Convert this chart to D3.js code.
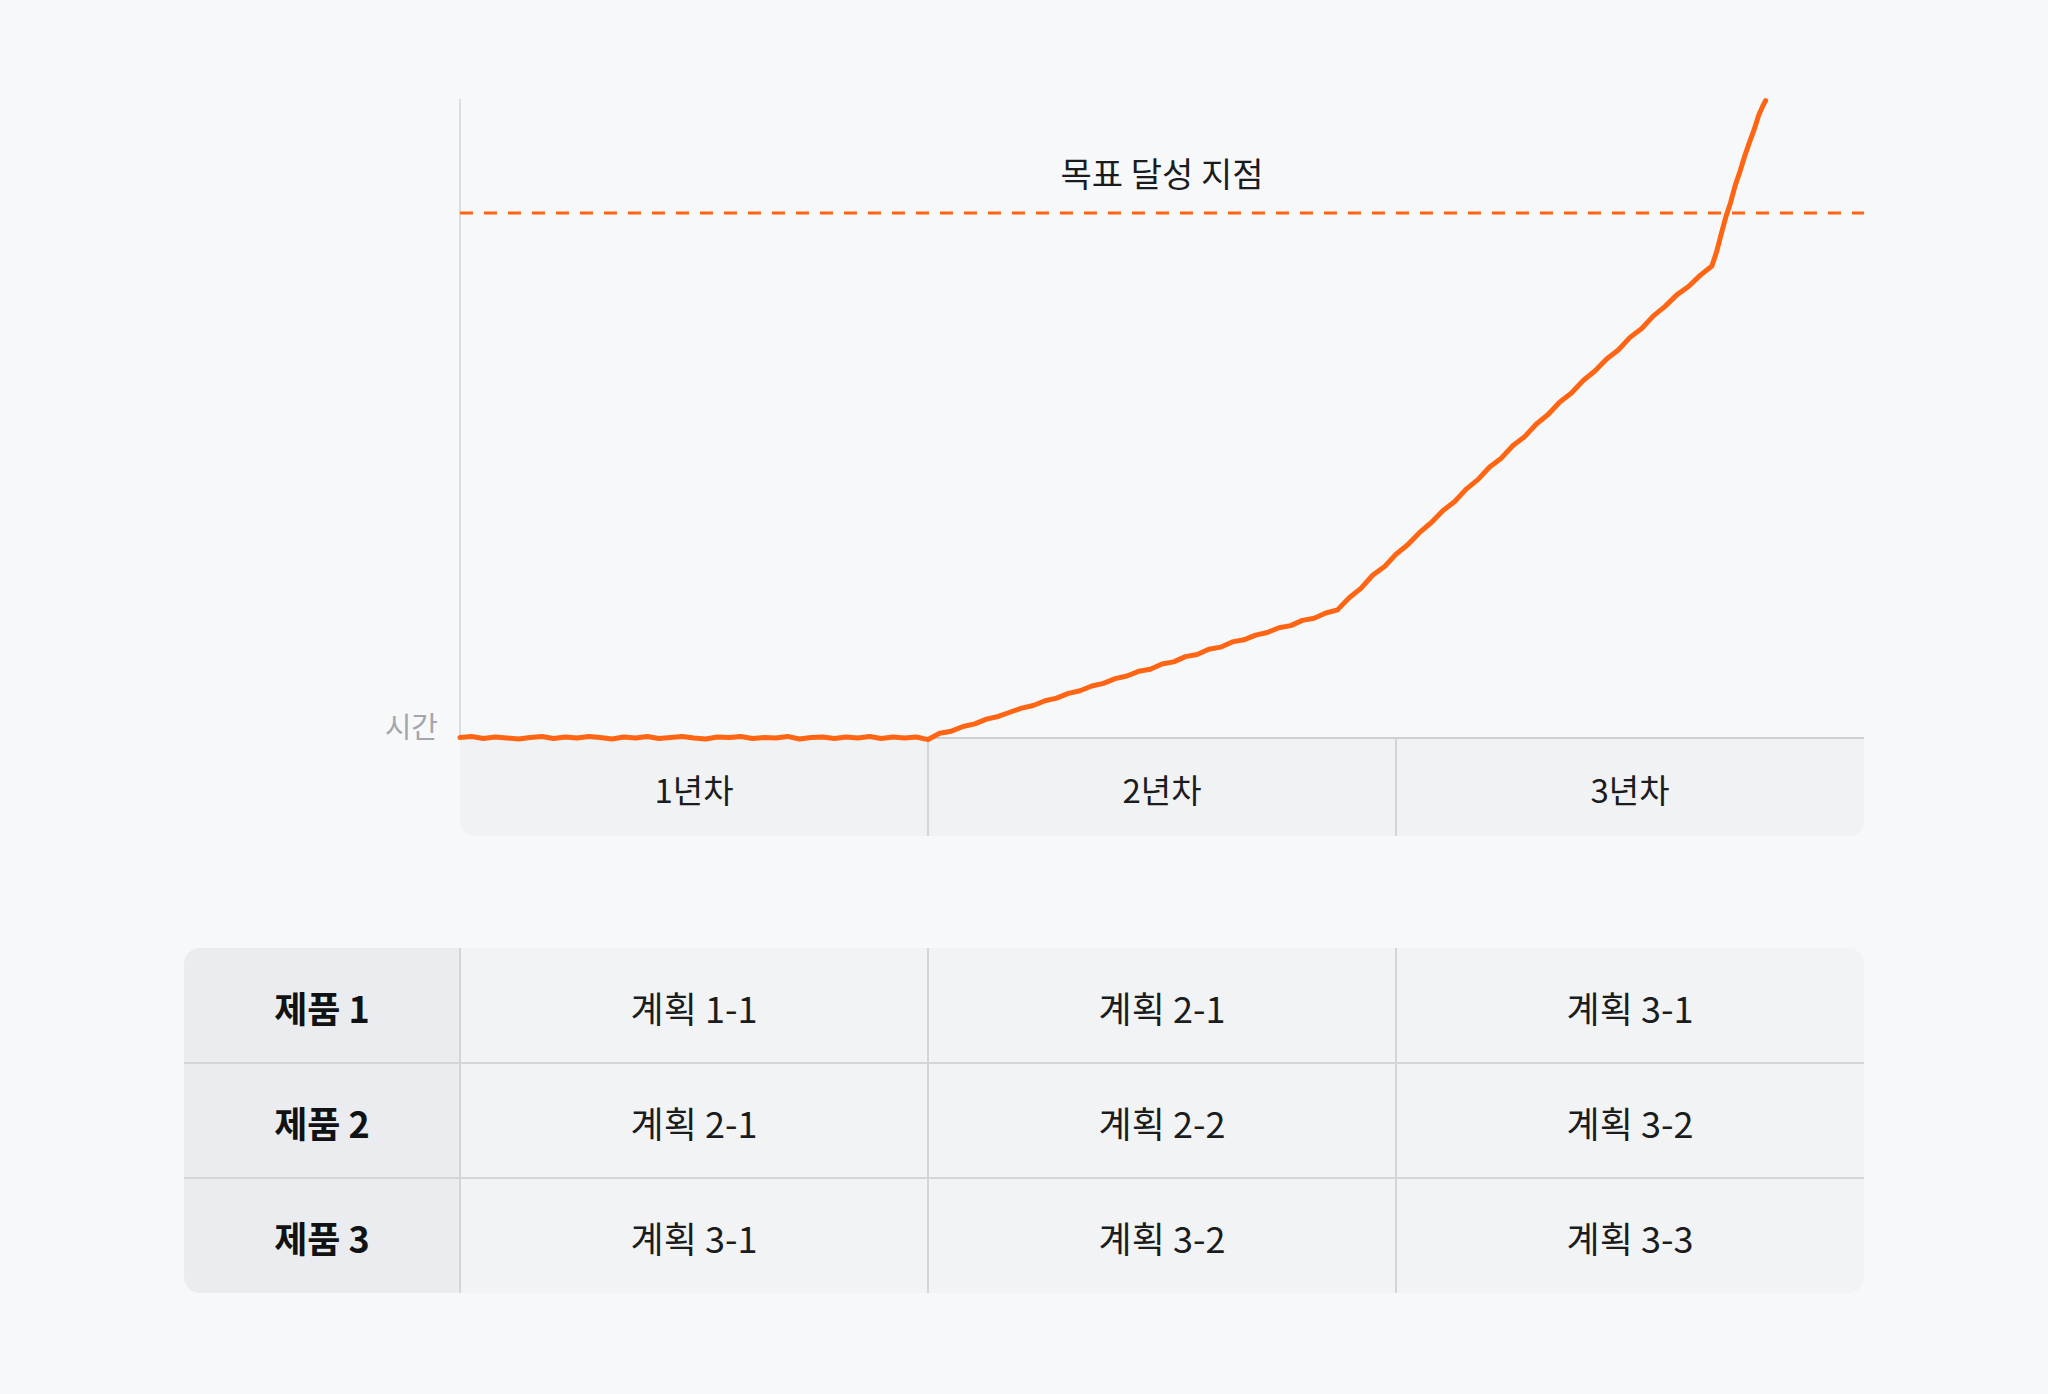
<!DOCTYPE html>
<html>
<head>
<meta charset="utf-8">
<script src="https://cdn.jsdelivr.net/npm/d3@7"></script>
<style>
  html, body { margin: 0; padding: 0; background: #f7f8fa; }
  svg { display: block; }
  text { font-family: "Noto Sans CJK KR", "Noto Sans", sans-serif; }
</style>
</head>
<body>
<svg id="chart" width="2048" height="1394"></svg>
<script>
// ---- data ----
const yearLabels = ["1년차", "2년차", "3년차"];
const goalValue = 100;
const goalLabel = "목표 달성 지점";
const yAxisLabel = "시간";
const products = ["제품 1", "제품 2", "제품 3"];
const plans = [
  ["계획 1-1", "계획 2-1", "계획 3-1"],
  ["계획 2-1", "계획 2-2", "계획 3-2"],
  ["계획 3-1", "계획 3-2", "계획 3-3"]
];
// [year, progress]
const trajectory = [
  [0,0.1],[0.025,0.3],[0.05,-0.1],[0.075,0.2],[0.1,0.0],[0.125,-0.2],[0.15,0.1],[0.175,0.3],
  [0.2,-0.1],[0.225,0.2],[0.25,0.0],[0.275,0.3],[0.3,0.1],[0.325,-0.2],[0.35,0.2],[0.375,0.0],
  [0.4,0.3],[0.425,-0.1],[0.45,0.1],[0.475,0.3],[0.5,0.0],[0.525,-0.2],[0.55,0.2],[0.575,0.1],
  [0.6,0.3],[0.625,-0.1],[0.65,0.1],[0.675,0.0],[0.7,0.3],[0.725,-0.2],[0.75,0.1],[0.775,0.2],
  [0.8,-0.1],[0.825,0.2],[0.85,0.0],[0.875,0.3],[0.9,-0.1],[0.925,0.2],[0.95,0.0],[0.975,0.2],
  [1.0,-0.3],
  [1.025,0.9],[1.05,1.3],[1.075,2.2],[1.1,2.7],[1.125,3.6],[1.15,4.1],[1.175,4.9],[1.2,5.7],
  [1.225,6.2],[1.25,7.1],[1.275,7.6],[1.3,8.5],[1.325,9.0],[1.35,9.9],[1.375,10.4],[1.4,11.3],
  [1.425,11.8],[1.45,12.7],[1.475,13.1],[1.5,14.1],[1.525,14.5],[1.55,15.5],[1.575,15.9],
  [1.6,16.9],[1.625,17.3],[1.65,18.3],[1.675,18.7],[1.7,19.6],[1.725,20.1],[1.75,21.0],
  [1.775,21.4],[1.8,22.4],[1.825,22.8],[1.85,23.8],[1.875,24.4],
  [1.9,26.7],[1.925,28.5],[1.95,31.0],[1.975,32.6],[2.0,35.0],[2.025,36.8],[2.05,39.1],
  [2.075,41.0],[2.1,43.3],[2.125,45.0],[2.15,47.4],[2.175,49.2],[2.2,51.6],[2.225,53.3],
  [2.25,55.7],[2.275,57.4],[2.3,59.8],[2.325,61.6],[2.35,64.0],[2.375,65.7],[2.4,68.1],
  [2.425,69.9],[2.45,72.2],[2.475,73.9],[2.5,76.3],[2.525,78.0],[2.55,80.4],[2.575,82.2],
  [2.6,84.4],[2.625,86.0],[2.65,88.1],[2.675,89.9],
  [2.685,92.6],[2.695,96.0],[2.705,99.3],[2.715,102.0],[2.725,105.3],[2.735,107.9],
  [2.745,110.8],[2.755,113.4],[2.765,115.8],[2.775,118.6],[2.785,120.6],[2.79,121.4]
];

// ---- layout ----
const svg = d3.select("#chart");
const plotLeft = 460, plotRight = 1864, plotTop = 99, plotBottom = 738;
const bandBottom = 836;
const tableLeft = 184, tableTop = 948, tableBottom = 1293;

const x = d3.scaleLinear().domain([0, 3]).range([plotLeft, plotRight]);
const y = d3.scaleLinear().domain([0, 121.7]).range([plotBottom, plotTop]);
const yearBand = d3.scaleBand().domain(yearLabels).range([plotLeft, plotRight]);
const rowBand = d3.scaleBand().domain(products).range([tableTop, tableBottom]);

const lineColor = "#ff6513";
const gridColor = "#d4d5d9";

// background
svg.append("rect").attr("width", 2048).attr("height", 1394).attr("fill", "#f7f8fa");

// category band with rounded bottom corners
function bottomRounded(x0, y0, x1, y1, r) {
  return `M${x0},${y0}H${x1}V${y1 - r}Q${x1},${y1} ${x1 - r},${y1}H${x0 + r}Q${x0},${y1} ${x0},${y1 - r}Z`;
}
svg.append("path")
  .attr("d", bottomRounded(plotLeft, plotBottom, plotRight, bandBottom, 16))
  .attr("fill", "#f1f2f4");
svg.append("g").selectAll("line")
  .data(yearLabels.slice(1))
  .join("line")
  .attr("x1", d => yearBand(d)).attr("x2", d => yearBand(d))
  .attr("y1", plotBottom).attr("y2", bandBottom)
  .attr("stroke", gridColor).attr("stroke-width", 2);
svg.append("g").selectAll("text")
  .data(yearLabels)
  .join("text")
  .attr("x", d => yearBand(d) + yearBand.bandwidth() / 2)
  .attr("y", (plotBottom + bandBottom) / 2 + 2)
  .attr("text-anchor", "middle")
  .attr("dominant-baseline", "central")
  .attr("font-size", 33)
  .attr("fill", "#1b1c1e")
  .text(d => d);

// axes lines
svg.append("line")
  .attr("x1", plotLeft).attr("x2", plotLeft)
  .attr("y1", plotTop).attr("y2", plotBottom)
  .attr("stroke", "#dcdde0").attr("stroke-width", 2);
svg.append("line")
  .attr("x1", plotLeft).attr("x2", plotRight)
  .attr("y1", plotBottom).attr("y2", plotBottom)
  .attr("stroke", "#cfd0d4").attr("stroke-width", 2);

svg.append("text")
  .attr("x", plotLeft - 22).attr("y", plotBottom - 13)
  .attr("text-anchor", "end")
  .attr("dominant-baseline", "central")
  .attr("font-size", 29)
  .attr("fill", "#a3a6ab")
  .text(yAxisLabel);

// goal line
svg.append("line")
  .attr("x1", plotLeft).attr("x2", plotRight)
  .attr("y1", y(goalValue)).attr("y2", y(goalValue))
  .attr("stroke", lineColor).attr("stroke-width", 3)
  .attr("stroke-dasharray", "13 11");
svg.append("text")
  .attr("x", x(1.5)).attr("y", y(goalValue) - 40)
  .attr("text-anchor", "middle")
  .attr("dominant-baseline", "central")
  .attr("font-size", 34)
  .attr("fill", "#1b1c1e")
  .text(goalLabel);

// trajectory line
const line = d3.line().x(d => x(d[0])).y(d => y(d[1])).curve(d3.curveLinear);
svg.append("path")
  .datum(trajectory)
  .attr("d", line)
  .attr("fill", "none")
  .attr("stroke", lineColor)
  .attr("stroke-width", 5)
  .attr("stroke-linejoin", "round")
  .attr("stroke-linecap", "round");

// ---- table ----
const clipId = "tableClip";
svg.append("clipPath").attr("id", clipId)
  .append("rect")
  .attr("x", tableLeft).attr("y", tableTop)
  .attr("width", plotRight - tableLeft).attr("height", tableBottom - tableTop)
  .attr("rx", 16).attr("ry", 16);
const table = svg.append("g").attr("clip-path", `url(#${clipId})`);
table.append("rect")
  .attr("x", tableLeft).attr("y", tableTop)
  .attr("width", plotRight - tableLeft).attr("height", tableBottom - tableTop)
  .attr("fill", "#f2f3f5");
table.append("rect")
  .attr("x", tableLeft).attr("y", tableTop)
  .attr("width", plotLeft - tableLeft).attr("height", tableBottom - tableTop)
  .attr("fill", "#ebecef");
// row lines
table.append("g").selectAll("line")
  .data(products.slice(1))
  .join("line")
  .attr("x1", tableLeft).attr("x2", plotRight)
  .attr("y1", d => rowBand(d)).attr("y2", d => rowBand(d))
  .attr("stroke", gridColor).attr("stroke-width", 2);
// column lines
table.append("g").selectAll("line")
  .data(yearLabels)
  .join("line")
  .attr("x1", d => yearBand(d)).attr("x2", d => yearBand(d))
  .attr("y1", tableTop).attr("y2", tableBottom)
  .attr("stroke", gridColor).attr("stroke-width", 2);

// header text
table.append("g").selectAll("text")
  .data(products)
  .join("text")
  .attr("x", (tableLeft + plotLeft) / 2)
  .attr("y", d => rowBand(d) + rowBand.bandwidth() / 2 + 1)
  .attr("text-anchor", "middle")
  .attr("dominant-baseline", "central")
  .attr("font-size", 36)
  .attr("font-weight", 700)
  .attr("fill", "#111214")
  .text(d => d);

// cells
const cells = [];
products.forEach((p, i) => yearLabels.forEach((yl, j) => cells.push({ p, yl, t: plans[i][j] })));
table.append("g").selectAll("text")
  .data(cells)
  .join("text")
  .attr("x", d => yearBand(d.yl) + yearBand.bandwidth() / 2)
  .attr("y", d => rowBand(d.p) + rowBand.bandwidth() / 2 + 1)
  .attr("text-anchor", "middle")
  .attr("dominant-baseline", "central")
  .attr("font-size", 36)
  .attr("fill", "#1b1c1e")
  .text(d => d.t);
</script>
</body>
</html>
